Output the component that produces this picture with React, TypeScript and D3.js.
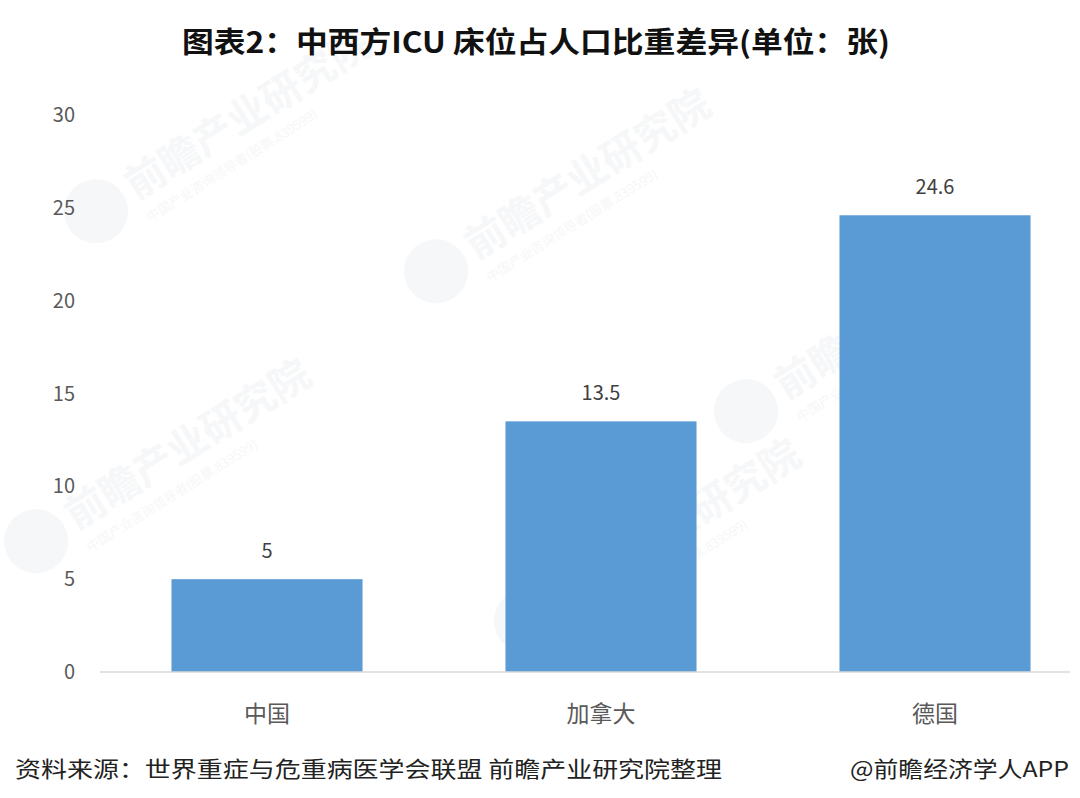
import React from "react";
import * as d3 from "d3";

const categories = ["中国", "加拿大", "德国"];
const values = [5, 13.5, 24.6];
const yTicks = [0, 5, 10, 15, 20, 25, 30];
const title = "图表2：中西方ICU 床位占人口比重差异(单位：张)";
const source = "资料来源：世界重症与危重病医学会联盟 前瞻产业研究院整理";
const credit = "@前瞻经济学人APP";
const watermarks = [
  { x: 130, y: 190, r: -32 },
  { x: 470, y: 250, r: -32 },
  { x: 70, y: 520, r: -32 },
  { x: 560, y: 600, r: -32 },
  { x: 780, y: 390, r: -32 },
];

const W = 1080;
const H = 798;
const FONT = "'Noto Sans CJK SC', 'Noto Sans', sans-serif";

export default function App() {
  const x = d3
    .scaleBand<string>()
    .domain(categories)
    .range([100, 1102])
    .paddingInner(0.428)
    .paddingOuter(0.214);
  const y = d3.scaleLinear().domain([0, 30]).range([672, 115]);

  return (
    <svg width={W} height={H} style={{ position: "absolute", left: 0, top: 0, background: "#fff" }}>
      <rect width={W} height={H} fill="#fff" />
      {watermarks.map((w, i) => (
        <g key={i} transform={`translate(${w.x},${w.y}) rotate(${w.r})`} opacity={0.5}>
          <circle cx={-40} cy={0} r={32} fill="#eef0f3" />
          <text x={0} y={12} fontSize={40} fontWeight="bold" fill="#eef0f3" fontFamily={FONT}>
            前瞻产业研究院
          </text>
          <text x={0} y={38} fontSize={13} fill="#eef0f3" fontFamily={FONT}>
            中国产业咨询领导者(股票.839599)
          </text>
        </g>
      ))}
      <text
        x={536}
        y={53}
        textAnchor="middle"
        fontSize={29}
        fontWeight="bold"
        fill="#111"
        fontFamily={FONT}
        textLength={708}
        lengthAdjust="spacingAndGlyphs"
      >
        {title}
      </text>
      {yTicks.map((t) => (
        <text
          key={t}
          x={75}
          y={y(t) + 7}
          textAnchor="end"
          fontSize={20}
          fill="#595959"
          fontFamily={FONT}
        >
          {t}
        </text>
      ))}
      {categories.map((c, i) => (
        <g key={c}>
          <rect
            x={x(c)!}
            y={y(values[i])}
            width={x.bandwidth()}
            height={y(0) - y(values[i])}
            fill="#5B9BD5"
          />
          <text
            x={x(c)! + x.bandwidth() / 2}
            y={y(values[i]) - 21}
            textAnchor="middle"
            fontSize={20}
            fill="#404040"
            fontFamily={FONT}
          >
            {values[i]}
          </text>
          <text
            x={x(c)! + x.bandwidth() / 2}
            y={722}
            textAnchor="middle"
            fontSize={23}
            fill="#595959"
            fontFamily={FONT}
          >
            {c}
          </text>
        </g>
      ))}
      <line x1={100} x2={1070} y1={y(0)} y2={y(0)} stroke="#d9d9d9" strokeWidth={1.5} />
      <text
        x={15}
        y={777}
        fontSize={22}
        fill="#222"
        fontFamily={FONT}
        textLength={707}
        lengthAdjust="spacingAndGlyphs"
      >
        {source}
      </text>
      <text
        x={850}
        y={777}
        fontSize={22}
        fill="#222"
        fontFamily={FONT}
        textLength={219}
        lengthAdjust="spacingAndGlyphs"
      >
        {credit}
      </text>
    </svg>
  );
}
